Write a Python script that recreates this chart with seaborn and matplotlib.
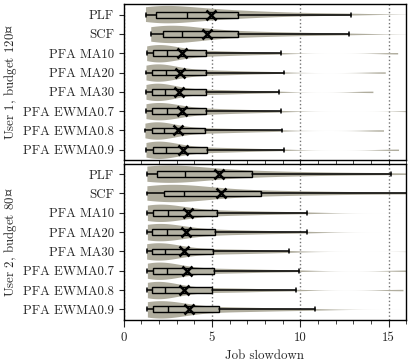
import numpy as np
import pandas as pd
import matplotlib
matplotlib.use('Agg')
import matplotlib.pyplot as plt
from matplotlib.ticker import MultipleLocator
import seaborn as sns

methods = ['PLF', 'SCF', 'PFA MA10', 'PFA MA20', 'PFA MA30',
           'PFA EWMA0.7', 'PFA EWMA0.8', 'PFA EWMA0.9']

# User 1, budget 120 -- box plot statistics
u1_lo = [1.27, 1.54, 1.31, 1.27, 1.27, 1.27, 1.21, 1.27]
u1_q1 = [1.84, 2.21, 1.69, 1.63, 1.63, 1.63, 1.60, 1.69]
u1_med = [3.60, 3.31, 2.48, 2.40, 2.34, 2.44, 2.31, 2.40]
u1_mean = [4.94, 4.74, 3.29, 3.19, 3.14, 3.29, 3.10, 3.34]
u1_q3 = [6.49, 6.49, 4.64, 4.68, 4.64, 4.64, 4.62, 4.70]
u1_hi = [12.84, 12.74, 8.88, 9.05, 8.80, 8.88, 8.94, 9.05]

# estimated 0,5,...,95,100 percentiles per method, used for the violin shapes
u1_plf = [1.27, 1.38, 1.48, 1.6, 1.72, 1.84, 2.1, 2.45, 2.8, 3.2, 3.6, 4.1, 4.6, 5.2, 5.8, 6.49, 7.4, 8.5, 10.0, 12.5, 25.0]
u1_scf = [1.54, 1.66, 1.8, 1.94, 2.07, 2.21, 2.42, 2.64, 2.86, 3.08, 3.31, 3.7, 4.2, 4.9, 5.6, 6.49, 7.4, 8.5, 10.0, 12.3, 25.0]
u1_ma10 = [1.31, 1.38, 1.45, 1.53, 1.61, 1.69, 1.83, 1.98, 2.14, 2.30, 2.48, 2.75, 3.05, 3.45, 4.0, 4.64, 5.3, 6.0, 7.0, 8.4, 15.5]
u1_ma20 = [1.27, 1.34, 1.41, 1.48, 1.55, 1.63, 1.77, 1.92, 2.07, 2.23, 2.40, 2.67, 2.98, 3.38, 3.95, 4.68, 5.35, 6.05, 7.05, 8.5, 14.8]
u1_ma30 = [1.27, 1.34, 1.41, 1.48, 1.55, 1.63, 1.76, 1.90, 2.04, 2.19, 2.34, 2.60, 2.92, 3.33, 3.92, 4.64, 5.3, 5.95, 6.9, 8.3, 14.1]
u1_ew07 = [1.27, 1.34, 1.41, 1.48, 1.55, 1.63, 1.78, 1.94, 2.10, 2.27, 2.44, 2.71, 3.01, 3.40, 3.95, 4.64, 5.3, 6.0, 7.0, 8.4, 17.0]
u1_ew08 = [1.21, 1.29, 1.37, 1.45, 1.52, 1.60, 1.73, 1.87, 2.01, 2.16, 2.31, 2.58, 2.90, 3.31, 3.90, 4.62, 5.3, 6.0, 7.0, 8.45, 14.7]
u1_ew09 = [1.27, 1.36, 1.44, 1.52, 1.60, 1.69, 1.82, 1.96, 2.10, 2.25, 2.40, 2.68, 3.00, 3.42, 4.00, 4.70, 5.4, 6.1, 7.1, 8.6, 15.55]

# User 2, budget 80
u2_lo = [1.35, 1.35, 1.35, 1.35, 1.31, 1.35, 1.35, 1.35]
u2_q1 = [1.88, 2.29, 1.69, 1.63, 1.63, 1.69, 1.63, 1.69]
u2_med = [3.46, 3.42, 2.50, 2.48, 2.34, 2.48, 2.34, 2.53]
u2_mean = [5.40, 5.53, 3.62, 3.55, 3.42, 3.59, 3.42, 3.72]
u2_q3 = [7.24, 7.80, 5.26, 5.19, 5.07, 5.11, 4.98, 5.41]
u2_hi = [15.10, 16.50, 10.38, 10.35, 9.35, 9.92, 9.73, 10.82]

u2_plf = [1.35, 1.45, 1.55, 1.65, 1.76, 1.88, 2.15, 2.45, 2.78, 3.1, 3.46, 4.0, 4.7, 5.5, 6.3, 7.24, 8.5, 10.0, 12.0, 15.0, 30.0]
u2_scf = [1.35, 1.6, 1.8, 1.98, 2.14, 2.29, 2.5, 2.72, 2.95, 3.18, 3.42, 4.0, 4.8, 5.7, 6.7, 7.8, 9.2, 10.8, 13.0, 16.5, 30.0]
u2_ma10 = [1.35, 1.42, 1.49, 1.56, 1.62, 1.69, 1.83, 1.99, 2.15, 2.32, 2.50, 2.82, 3.2, 3.7, 4.4, 5.26, 6.1, 7.0, 8.2, 10.0, 20.0]
u2_ma20 = [1.35, 1.40, 1.46, 1.52, 1.57, 1.63, 1.78, 1.94, 2.12, 2.30, 2.48, 2.80, 3.17, 3.65, 4.35, 5.19, 6.0, 6.9, 8.1, 9.9, 20.0]
u2_ma30 = [1.31, 1.38, 1.44, 1.51, 1.57, 1.63, 1.76, 1.90, 2.04, 2.19, 2.34, 2.64, 3.0, 3.5, 4.2, 5.07, 5.8, 6.6, 7.6, 9.0, 18.0]
u2_ew07 = [1.35, 1.42, 1.49, 1.56, 1.62, 1.69, 1.83, 1.98, 2.14, 2.31, 2.48, 2.79, 3.15, 3.62, 4.3, 5.11, 5.9, 6.75, 7.9, 9.6, 16.2]
u2_ew08 = [1.35, 1.40, 1.46, 1.52, 1.57, 1.63, 1.76, 1.90, 2.04, 2.19, 2.34, 2.63, 2.98, 3.45, 4.12, 4.98, 5.75, 6.6, 7.7, 9.4, 15.8]
u2_ew09 = [1.35, 1.42, 1.49, 1.56, 1.62, 1.69, 1.84, 2.01, 2.18, 2.35, 2.53, 2.87, 3.27, 3.80, 4.5, 5.41, 6.3, 7.25, 8.5, 10.4, 20.0]

# the currency sign is set through mathtext, since cmr10 maps U+00A4 to another glyph
panels = [
    (r'User 1, budget 120$\mathrm{¤}$', u1_lo, u1_q1, u1_med, u1_mean, u1_q3, u1_hi,
     [u1_plf, u1_scf, u1_ma10, u1_ma20, u1_ma30, u1_ew07, u1_ew08, u1_ew09]),
    (r'User 2, budget 80$\mathrm{¤}$', u2_lo, u2_q1, u2_med, u2_mean, u2_q3, u2_hi,
     [u2_plf, u2_scf, u2_ma10, u2_ma20, u2_ma30, u2_ew07, u2_ew08, u2_ew09]),
]

violin_color = '#b0ad9e'
box_color = '#b3b1a3'

sns.set_style('ticks')
plt.rcParams['font.family'] = ['cmr10', 'DejaVu Serif']
plt.rcParams['mathtext.fontset'] = 'custom'
plt.rcParams['mathtext.rm'] = 'DejaVu Serif'
plt.rcParams['font.size'] = 9.3

fig, axes = plt.subplots(2, 1, figsize=(4.15, 3.63), dpi=100, sharex=True)
fig.subplots_adjust(left=0.2976, right=0.9795, top=0.989, bottom=0.1185, hspace=0.02)

for ax, (label, lo, q1, med, mean, q3, hi, pcts) in zip(axes, panels):
    df = pd.DataFrame({'method': np.repeat(methods, [len(p) for p in pcts]),
                       'slowdown': np.concatenate(pcts)})

    sns.violinplot(data=df, x='slowdown', y='method', order=methods, orient='h', ax=ax,
                   inner=None, cut=0, density_norm='width', width=0.9, color=violin_color,
                   saturation=1, linewidth=0, bw_adjust=0.55, gridsize=400)

    stats = [dict(whislo=lo[i], q1=q1[i], med=med[i], mean=mean[i], q3=q3[i],
                  whishi=hi[i], fliers=[]) for i in range(len(methods))]
    ax.bxp(stats, positions=range(len(methods)), orientation='horizontal', widths=0.3,
           capwidths=0.2, showmeans=True, patch_artist=True, manage_ticks=False,
           boxprops=dict(facecolor=box_color, edgecolor='black', linewidth=1),
           medianprops=dict(color='black', linewidth=1),
           whiskerprops=dict(color='black', linewidth=1.1),
           capprops=dict(color='black', linewidth=1.1),
           meanprops=dict(marker='x', markeredgecolor='black', markersize=7, markeredgewidth=1.8))

    ax.set_ylim(7.55, -0.55)
    ax.set_xlim(0, 16)
    ax.set_ylabel(label)
    ax.yaxis.set_label_coords(-0.37, 0.5)
    ax.set_xlabel('')
    ax.xaxis.set_major_locator(MultipleLocator(5))
    ax.xaxis.set_minor_locator(MultipleLocator(1))
    ax.xaxis.grid(True, which='major', linestyle=':', color='0.45', linewidth=1)
    ax.tick_params(axis='x', which='major', length=5, direction='out')
    ax.tick_params(axis='x', which='minor', length=3, direction='out')
    ax.tick_params(axis='y', length=3.5)
    for s in ax.spines.values():
        s.set_visible(True)
        s.set_linewidth(1)
        s.set_color('black')

axes[1].set_xlabel('Job slowdown')

fig.savefig('out.png', dpi=100)
